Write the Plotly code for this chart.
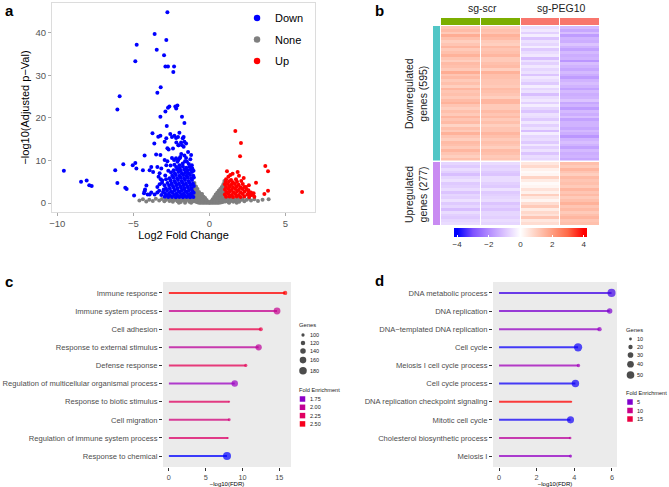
import math
import plotly.graph_objects as go

W, H = 669, 487
FONT = "Liberation Sans, Arial, sans-serif"

# ---------------- a: volcano (log2 fold change, -log10 adjusted p) ----------------
down_pts = [
    (-2.76, 44.8), (-3.60, 39.7), (-2.83, 38.3), (-4.78, 37.2), (-3.46, 36.0), (-2.98, 34.7),
    (-4.87, 33.3), (-2.89, 32.1), (-2.72, 32.1), (-2.32, 32.1), (-2.37, 30.8), (-3.20, 27.2),
    (-3.42, 25.9), (-5.90, 25.1), (-6.05, 22.0), (-2.72, 22.4), (-2.63, 22.7), (-2.24, 22.7),
    (-2.10, 22.9), (-2.18, 22.2), (-2.89, 21.5), (-3.22, 20.3), (-1.80, 20.3), (-1.64, 18.8),
    (-2.80, 18.1), (-3.74, 16.4), (-3.36, 15.6), (-3.22, 15.8), (-2.57, 16.2), (-2.46, 15.5),
    (-2.30, 15.8), (-2.19, 15.3), (-1.97, 16.5), (-2.06, 15.5), (-1.75, 15.2), (-1.69, 15.5),
    (-1.53, 14.0), (-1.80, 13.6), (-1.64, 14.4), (-1.86, 14.2), (-2.04, 13.6), (-1.69, 13.2),
    (-3.62, 14.0), (-2.94, 14.4), (-2.83, 15.2), (-2.17, 14.2), (-2.02, 13.6), (-2.76, 12.9),
    (-2.68, 12.6), (-2.39, 12.8), (-3.50, 11.4), (-3.22, 11.3), (-4.26, 11.2), (-2.94, 10.1),
    (-2.76, 9.8), (-2.83, 8.9), (-2.46, 10.6), (-2.32, 10.1), (-2.10, 9.7), (-1.95, 10.5),
    (-1.91, 10.8), (-1.64, 11.2), (-1.53, 10.6), (-2.04, 10.1), (-2.19, 10.5), (-1.47, 9.7),
    (-1.75, 9.3), (-1.97, 8.9), (-1.35, 9.2), (-1.15, 8.9), (-1.60, 9.8), (-1.25, 10.3),
    (-2.30, 9.0), (-1.85, 11.5), (-1.40, 12.0), (-2.55, 8.8), (-1.20, 11.3),
    (-9.57, 7.6), (-8.44, 5.0), (-8.07, 5.3), (-7.90, 4.2), (-7.74, 4.0), (-6.19, 7.7),
    (-5.66, 9.1), (-6.05, 4.7), (-5.53, 3.6), (-5.44, 3.3), (-5.04, 8.9), (-4.87, 9.4),
    (-4.80, 8.1), (-4.95, 1.8), (-4.37, 7.7), (-4.23, 3.2), (-4.14, 4.1), (-4.06, 2.0),
    (-3.82, 8.5), (-3.42, 8.5), (-3.93, 7.7), (-3.70, 7.3), (-3.16, 8.1), (-3.27, 7.0),
    (-3.34, 6.2), (-3.20, 5.6), (-4.26, 2.8), (-4.30, 2.3), (-3.93, 2.0), (-3.82, 2.5),
    (-3.60, 2.0), (-3.42, 2.5), (-3.16, 1.9), (-3.05, 2.6), (-2.94, 1.5), (-3.42, 3.8),
    (-3.27, 4.4), (-3.11, 4.8), (-3.00, 3.2), (-2.95, 4.2), (-3.10, 5.3), (-2.90, 6.5),
    (-2.70, 7.6), (-2.85, 5.6), (-3.30, 2.9),
    (-2.18, 8.5), (-1.95, 8.2), (-1.74, 8.6), (-1.52, 8.3), (-1.31, 8.5), (-1.12, 8.1),
    (-2.35, 7.7), (-2.12, 7.9), (-1.88, 7.6), (-1.65, 7.9), (-1.43, 7.7), (-1.22, 7.8), (-1.04, 7.6),
    (-2.52, 7.2), (-2.27, 7.0), (-2.03, 7.3), (-1.80, 7.0), (-1.58, 7.2), (-1.36, 7.0), (-1.15, 7.3),
    (-2.44, 6.4), (-2.20, 6.6), (-1.96, 6.4), (-1.72, 6.6), (-1.50, 6.4), (-1.27, 6.6), (-1.06, 6.4),
    (-2.62, 5.8), (-2.37, 6.0), (-2.12, 5.8), (-1.89, 6.0), (-1.66, 5.8), (-1.43, 6.0), (-1.20, 5.8),
    (-1.02, 6.0), (-2.55, 5.3), (-2.30, 5.2), (-2.06, 5.4), (-1.83, 5.2), (-1.60, 5.4), (-1.37, 5.2),
    (-1.14, 5.4), (-2.75, 4.7), (-2.48, 4.6), (-2.24, 4.8), (-2.00, 4.6), (-1.77, 4.8), (-1.54, 4.6),
    (-1.31, 4.8), (-1.08, 4.6), (-2.65, 4.1), (-2.40, 4.0), (-2.16, 4.2), (-1.92, 4.0), (-1.69, 4.2),
    (-1.46, 4.0), (-1.23, 4.2), (-1.02, 4.0), (-2.86, 3.5), (-2.60, 3.4), (-2.34, 3.6), (-2.10, 3.4),
    (-1.86, 3.6), (-1.63, 3.4), (-1.40, 3.6), (-1.17, 3.4), (-2.78, 2.9), (-2.52, 2.8), (-2.28, 3.0),
    (-2.03, 2.8), (-1.80, 3.0), (-1.57, 2.8), (-1.34, 3.0), (-1.11, 2.8), (-2.92, 2.3), (-2.66, 2.2),
    (-2.41, 2.4), (-2.17, 2.2), (-1.93, 2.4), (-1.70, 2.2), (-1.47, 2.4), (-1.24, 2.2), (-1.03, 2.4),
    (-2.82, 1.8), (-2.57, 1.7), (-2.32, 1.9), (-2.08, 1.7), (-1.85, 1.9), (-1.61, 1.7), (-1.38, 1.9),
    (-1.15, 1.7), (-2.70, 1.4), (-2.45, 1.45), (-2.20, 1.35), (-1.97, 1.45), (-1.74, 1.35),
    (-1.50, 1.45), (-1.27, 1.35), (-1.05, 1.45),
]

none_pts = [
    (-0.98, 0.5), (-0.98, 1.1), (-0.98, 1.7), (-0.98, 2.3), (-0.98, 2.9), (-0.98, 3.5), (-0.98, 4.1), (-0.98, 4.7),
    (-0.88, 0.3), (-0.88, 0.9), (-0.88, 1.5), (-0.88, 2.1), (-0.88, 2.7), (-0.88, 3.3), (-0.88, 3.9),
    (-0.78, 0.2), (-0.78, 0.8), (-0.78, 1.4), (-0.78, 2.0), (-0.78, 2.6), (-0.78, 3.3),
    (-0.68, 0.1), (-0.68, 0.7), (-0.68, 1.3), (-0.68, 1.9), (-0.68, 2.6),
    (-0.58, 0.1), (-0.58, 0.6), (-0.58, 1.1), (-0.58, 1.7), (-0.58, 2.2),
    (-0.48, 0.05), (-0.48, 0.5), (-0.48, 1.0), (-0.48, 1.6), (-0.48, 2.1),
    (-0.38, 0.05), (-0.38, 0.5), (-0.38, 1.0), (-0.38, 1.5),
    (-0.28, 0.05), (-0.28, 0.45), (-0.28, 0.9), (-0.28, 1.2),
    (-0.18, 0.05), (-0.18, 0.35), (-0.18, 0.7), (-0.08, 0.05), (-0.08, 0.3),
    (0.02, 0.05), (0.02, 0.12), (0.12, 0.05), (0.12, 0.4),
    (0.22, 0.05), (0.22, 0.45), (0.22, 0.9),
    (0.32, 0.05), (0.32, 0.5), (0.32, 1.0), (0.32, 1.4),
    (0.42, 0.05), (0.42, 0.55), (0.42, 1.1), (0.42, 1.7), (0.42, 2.0),
    (0.52, 0.1), (0.52, 0.6), (0.52, 1.2), (0.52, 1.8), (0.52, 2.4),
    (0.62, 0.1), (0.62, 0.7), (0.62, 1.3), (0.62, 1.9), (0.62, 2.5), (0.62, 2.9),
    (0.72, 0.15), (0.72, 0.8), (0.72, 1.4), (0.72, 2.0), (0.72, 2.6), (0.72, 3.3),
    (0.82, 0.2), (0.82, 0.8), (0.82, 1.4), (0.82, 2.0), (0.82, 2.6), (0.82, 3.2), (0.82, 3.8),
    (0.92, 0.3), (0.92, 0.9), (0.92, 1.5), (0.92, 2.1), (0.92, 2.7), (0.92, 3.3), (0.92, 3.9), (0.92, 4.4),
    (0.99, 0.5), (0.99, 1.1), (0.99, 1.7), (0.99, 2.3), (0.99, 2.9), (0.99, 3.5), (0.99, 4.1), (0.99, 4.7),
    (0.99, 5.2),
    (-4.60, 0.6), (-4.37, 0.9), (-4.15, 0.35), (-3.95, 0.8), (-3.72, 0.5), (-3.52, 1.0), (-3.30, 0.6),
    (-3.12, 0.95), (-2.96, 0.4), (-2.85, 0.8), (-2.72, 1.1), (-2.62, 0.5), (-2.50, 0.9), (-2.40, 0.3),
    (-2.30, 0.7), (-2.20, 1.1), (-2.10, 0.45), (-1.98, 0.85), (-1.88, 0.25), (-1.78, 0.65), (-1.68, 1.05),
    (-1.58, 0.4), (-1.48, 0.8), (-1.40, 1.15), (-1.32, 0.3), (-1.24, 0.7), (-1.16, 1.1), (-1.10, 0.35),
    (-1.05, 0.8), (-1.02, 1.2), (-1.20, 0.1), (-1.60, 0.1), (-2.00, 0.1),
    (1.02, 0.8), (1.06, 0.35), (1.14, 1.1), (1.20, 0.6), (1.28, 0.2), (1.34, 0.95), (1.42, 0.5),
    (1.50, 1.15), (1.58, 0.3), (1.66, 0.8), (1.76, 0.45), (1.86, 1.0), (1.96, 0.3), (2.06, 0.7),
    (2.19, 0.95), (2.30, 0.4), (2.46, 0.8), (2.60, 1.1), (2.74, 0.6), (2.96, 0.9), (3.20, 0.5),
    (3.50, 0.8), (3.90, 0.9), (1.30, 0.05), (1.80, 0.1),
]

up_pts = [
    (1.71, 16.9), (2.08, 14.1), (2.02, 11.0), (3.68, 8.7), (3.86, 7.5), (3.07, 4.8), (3.62, 2.1),
    (3.86, 2.9), (6.10, 2.6), (1.16, 7.5), (1.38, 6.6), (1.53, 6.9), (1.86, 7.3), (2.26, 5.9),
    (1.75, 5.6), (1.43, 5.4), (1.10, 5.6), (2.41, 3.8), (2.57, 3.0), (2.74, 2.5), (2.91, 2.3),
    (2.70, 1.9), (2.96, 1.5), (1.25, 6.2), (1.95, 6.4), (2.60, 4.2),
    (1.08, 5.0), (1.30, 5.1), (1.55, 4.9), (1.82, 5.0), (2.10, 5.2),
    (1.02, 4.4), (1.22, 4.5), (1.44, 4.3), (1.68, 4.5), (1.93, 4.3), (2.20, 4.5),
    (1.10, 3.8), (1.33, 3.9), (1.56, 3.7), (1.80, 3.9), (2.05, 3.7), (2.30, 3.8),
    (1.03, 3.2), (1.25, 3.3), (1.47, 3.1), (1.70, 3.3), (1.94, 3.1), (2.18, 3.3), (2.45, 3.2),
    (1.12, 2.6), (1.35, 2.7), (1.58, 2.5), (1.82, 2.7), (2.06, 2.5), (2.32, 2.7), (2.60, 2.5),
    (1.02, 2.0), (1.24, 2.1), (1.47, 1.9), (1.70, 2.1), (1.94, 1.9), (2.20, 2.1), (2.50, 2.0),
    (2.80, 1.9), (1.10, 1.5), (1.33, 1.55), (1.56, 1.45), (1.80, 1.55), (2.05, 1.45), (2.30, 1.55),
    (2.62, 1.45),
]

volcano_groups = ["Down", "None", "Up"]
volcano_colors = ["#0000FF", "#7F7F7F", "#FF0000"]

# ---------------- b: heatmap of z-scored expression ----------------
samples = ["sg-scr 1", "sg-scr 2", "sg-PEG10 1", "sg-PEG10 2"]
sample_groups = ["sg-scr", "sg-PEG10"]
down_c1 = [1.2, 1.4, 1.1, 1.7, 1.3, 1.0, 1.2, 1.5, 1.1, 1.3, 1.6, 1.2, 1.0, 1.4, 1.3, 1.1,
           1.7, 1.2, 1.4, 1.1, 1.3, 1.0, 1.5, 1.2, 1.3, 1.1, 1.4, 1.6, 1.2, 1.0, 1.3, 1.1,
           1.5, 1.2, 1.4, 0.9, 1.3, 1.1, 1.6, 1.2, 1.0, 1.4, 1.3, 1.1, 1.5, 1.2, 1.0, 1.3]
down_c2 = [1.1, 1.3, 1.2, 1.6, 1.4, 1.1, 1.0, 1.4, 1.2, 1.3, 1.5, 1.1, 1.1, 1.3, 1.4, 1.0,
           1.6, 1.3, 1.3, 1.2, 1.2, 1.1, 1.4, 1.3, 1.2, 1.0, 1.5, 1.5, 1.1, 1.1, 1.4, 1.2,
           1.4, 1.1, 1.3, 1.0, 1.2, 1.2, 1.5, 1.3, 1.1, 1.3, 1.2, 1.0, 1.4, 1.3, 1.1, 1.2]
down_c3 = [-0.6, -0.4, -0.8, -0.3, -1.0, -0.5, -0.7, -0.3, -0.9, -0.6, -0.4, -1.1, -0.5, -0.8, -0.4, -0.7,
           -0.5, -1.0, -0.4, -0.6, -0.9, -0.3, -0.7, -0.5, -1.1, -0.6, -0.4, -0.8, -0.3, -0.7, -1.0, -0.5,
           -0.6, -0.9, -0.4, -0.8, -0.5, -1.1, -0.3, -0.7, -0.6, -0.9, -0.4, -0.8, -0.5, -1.0, -0.6, -0.7]
down_c4 = [-1.2, -1.5, -1.1, -1.7, -1.3, -1.4, -1.0, -1.3, -1.6, -1.2, -1.4, -1.3, -1.8, -1.1, -1.3, -1.5,
           -1.2, -1.4, -1.7, -1.3, -1.1, -1.3, -1.6, -1.2, -1.4, -1.3, -1.0, -1.5, -1.3, -1.7, -1.2, -1.4,
           -1.1, -1.6, -1.3, -1.3, -1.5, -1.2, -1.4, -1.8, -1.3, -1.1, -1.3, -1.6, -1.2, -1.4, -1.3, -1.5]
up_c1 = [-0.7, -0.9, -0.6, -0.8, -1.1, -0.7, -0.5, -0.9, -0.8, -0.6, -1.0,
         -0.7, -0.8, -0.5, -0.9, -0.7, -1.1, -0.6, -0.8, -0.9, -0.7, -0.6]
up_c2 = [-0.6, -0.8, -0.7, -0.9, -1.0, -0.6, -0.6, -0.8, -0.9, -0.5, -0.9,
         -0.8, -0.7, -0.6, -1.0, -0.8, -1.0, -0.7, -0.7, -0.8, -0.6, -0.7]
up_c3 = [0.5, 0.8, 0.3, 0.1, 0.2, 0.9, 0.4, 0.1, 0.2, 0.6, 0.3,
         1.0, 0.5, 0.2, 0.7, 1.1, 0.4, 0.8, 0.6, 1.2, 0.5, 0.7]
up_c4 = [1.3, 1.1, 1.5, 1.2, 1.0, 1.4, 1.2, 1.3, 1.1, 1.5, 1.2,
         1.4, 1.1, 1.3, 1.6, 1.2, 1.4, 1.1, 1.3, 1.5, 1.2, 1.3]
block_labels = ["Downregulated<br>genes (595)", "Upregulated<br>genes (277)"]
heat_ticks = [-4, -2, 0, 2, 4]

# ---------------- c / d: GO enrichment lollipops ----------------
c_terms = ["Immune response", "Immune system process", "Cell adhesion",
           "Response to external stimulus", "Defense response",
           "Regulation of multicellular organismal process", "Response to biotic stimulus",
           "Cell migration", "Regulation of immune system process", "Response to chemical"]
c_fdr = [15.8, 14.7, 12.5, 12.2, 10.45, 8.95, 8.2, 8.2, 8.0, 7.9]
c_genes = [120, 165, 112, 155, 100, 158, 78, 95, 82, 190]
c_fold = [2.6, 2.02, 2.35, 1.97, 2.3, 1.78, 2.25, 2.12, 2.22, 1.5]
c_gene_breaks = [100, 120, 140, 160, 180]
c_fold_breaks = [1.75, 2.00, 2.25, 2.50]

d_terms = ["DNA metabolic process", "DNA replication", "DNA\u2212templated DNA replication",
           "Cell cycle", "Meiosis I cell cycle process", "Cell cycle process",
           "DNA replication checkpoint signaling", "Mitotic cell cycle",
           "Cholesterol biosynthetic process", "Meiosis I"]
d_fdr = [5.98, 5.88, 5.34, 4.2, 4.22, 4.06, 3.85, 3.8, 3.78, 3.8]
d_genes = [55, 28, 20, 58, 14, 48, 5, 44, 9, 12]
d_fold = [3.2, 4.9, 5.6, 1.8, 6.4, 1.9, 18.5, 2.0, 8.6, 5.6]
d_gene_breaks = [10, 20, 30, 40, 50]
d_fold_breaks = [5, 10, 15]

FE_SCALE = [[0.0, "#0000FF"], [0.25, "#9A00C3"], [0.5, "#CA0089"], [0.75, "#E80050"], [1.0, "#FF0000"]]
HEAT_SCALE = [[0.0, "#0000FF"], [0.0238, "#0000FF"], [0.1429, "#7E51FF"], [0.2619, "#B38BFF"],
              [0.381, "#DCC4FF"], [0.5, "#FFFFFF"], [0.619, "#FFCFBF"], [0.738, "#FF9E81"],
              [0.857, "#FF6846"], [0.976, "#FF0000"], [1.0, "#FF0000"]]


def px_x(p):
    return p / W


def px_y(p):
    return 1 - p / H


def hex_rgb(c):
    return [int(c[i:i + 2], 16) for i in (1, 3, 5)]


def fe_color(v, lo, hi):
    t = min(max((v - lo) / (hi - lo), 0.0), 1.0)
    for (t0, c0), (t1, c1) in zip(FE_SCALE, FE_SCALE[1:]):
        if t <= t1:
            f = (t - t0) / (t1 - t0)
            a, b = hex_rgb(c0), hex_rgb(c1)
            return "rgb(%d,%d,%d)" % tuple(round(x + (y - x) * f) for x, y in zip(a, b))
    return FE_SCALE[-1][1]


def dot_size(g, g_lo, g_hi, d_lo, d_hi):
    # diameter grows with sqrt(genes), like the area scale of the original
    k = (d_hi - d_lo) / (math.sqrt(g_hi) - math.sqrt(g_lo))
    return d_lo + k * (math.sqrt(g) - math.sqrt(g_lo))


fig = go.Figure()

# ---- a ---- (grey drawn first so the coloured points sit on top)
volcano_pts = [down_pts, none_pts, up_pts]
for idx in (1, 0, 2):
    pts = volcano_pts[idx]
    fig.add_trace(go.Scatter(x=[p[0] for p in pts], y=[p[1] for p in pts], mode="markers",
                             name=volcano_groups[idx],
                             marker=dict(color=volcano_colors[idx], size=4, line=dict(width=0)),
                             xaxis="x", yaxis="y"))

# ---- b ----
down_z = [list(r) for r in zip(down_c1, down_c2, down_c3, down_c4)]
up_z = [list(r) for r in zip(up_c1, up_c2, up_c3, up_c4)]
fig.add_trace(go.Heatmap(z=down_z, x=list(range(len(samples))), y=list(range(len(down_z))),
                         coloraxis="coloraxis", xgap=1, xaxis="x2", yaxis="y2"))
fig.add_trace(go.Heatmap(z=up_z, x=list(range(len(samples))), y=list(range(len(up_z))),
                         coloraxis="coloraxis", xgap=1, xaxis="x2", yaxis="y3"))
fig.add_trace(go.Heatmap(z=[[0, 0, 1, 1]], x=list(range(len(samples))), y=[0], xgap=1,
                         colorscale=[[0, "#7CAE00"], [0.5, "#7CAE00"], [0.5, "#F8766D"], [1, "#F8766D"]],
                         zmin=0, zmax=1, showscale=False, xaxis="x2", yaxis="y4"))
fig.add_trace(go.Heatmap(z=[[0]] * len(down_z), x=[0], y=list(range(len(down_z))),
                         colorscale=[[0, "#52C6C6"], [1, "#52C6C6"]], showscale=False,
                         xaxis="x3", yaxis="y2"))
fig.add_trace(go.Heatmap(z=[[0]] * len(up_z), x=[0], y=list(range(len(up_z))),
                         colorscale=[[0, "#C98BF2"], [1, "#C98BF2"]], showscale=False,
                         xaxis="x3", yaxis="y3"))

# ---- c / d ----
panels = [
    (c_terms, c_fdr, c_genes, c_fold, "x4", "y5", (78, 190, 1.8, 8.0), (1.5, 2.6)),
    (d_terms, d_fdr, d_genes, d_fold, "x5", "y6", (5, 58, 1.6, 8.3), (1.5, 18.5)),
]
for terms, fdr, genes, fold, xa, ya, sz, (lo, hi) in panels:
    for i, (v, fe) in enumerate(zip(fdr, fold)):
        fig.add_trace(go.Scatter(x=[0, v], y=[i, i], mode="lines", opacity=0.75,
                                 line=dict(color=fe_color(fe, lo, hi), width=2),
                                 xaxis=xa, yaxis=ya))
    fig.add_trace(go.Scatter(x=fdr, y=list(range(len(terms))), mode="markers",
                             marker=dict(size=[dot_size(g, *sz) for g in genes], color=fold,
                                         colorscale=FE_SCALE, cmin=lo, cmax=hi,
                                         line=dict(width=0)),
                             xaxis=xa, yaxis=ya))

# ---- legends (keys drawn on a transparent pixel-space overlay) ----
annotations = []


def note(text, x, y, size, **kw):
    d = dict(text=text, x=px_x(x), y=px_y(y), xref="paper", yref="paper", showarrow=False,
             xanchor="left", yanchor="middle", font=dict(size=size, color=kw.pop("color", "#1A1A1A")))
    d.update(kw)
    annotations.append(d)


leg_y = [18 + i * 21.5 for i in range(len(volcano_groups))]
fig.add_trace(go.Scatter(x=[257] * 3, y=leg_y, mode="markers",
                         marker=dict(color=volcano_colors, size=6.5, line=dict(width=0)),
                         xaxis="x6", yaxis="y7"))
for name, yy in zip(volcano_groups, leg_y):
    note(name, 273, yy, 11, color="#000000")


def size_legend(breaks, sz, x_key, x_lab, y0, title_xy):
    diam = [dot_size(b, *sz) for b in breaks]
    ys = [y0]
    for a, b in zip(diam, diam[1:]):
        ys.append(ys[-1] + max(8, 0.75 * (a + b)))
    fig.add_trace(go.Scatter(x=[x_key] * len(breaks), y=ys, mode="markers",
                             marker=dict(color="black", size=diam, line=dict(width=0)),
                             xaxis="x6", yaxis="y7"))
    note("Genes", title_xy[0], title_xy[1], 5.8)
    for b, yy in zip(breaks, ys):
        note(str(b), x_lab, yy, 5.5)


def fold_legend(breaks, lo, hi, x_key, x_lab, y0, step, title_xy, fmt):
    ys = [y0 + i * step for i in range(len(breaks))]
    fig.add_trace(go.Scatter(x=[x_key] * len(breaks), y=ys, mode="markers",
                             marker=dict(symbol="square", size=5.5, color=breaks, colorscale=FE_SCALE,
                                         cmin=lo, cmax=hi, line=dict(width=0)),
                             xaxis="x6", yaxis="y7"))
    note("Fold Enrichment", title_xy[0], title_xy[1], 5.6)
    for b, yy in zip(breaks, ys):
        note(fmt.format(b), x_lab, yy, 5.5)


size_legend(c_gene_breaks, (78, 190, 1.8, 8.0), 303, 308, 335, (297, 325))
fold_legend(c_fold_breaks, 1.5, 2.6, 302.5, 308, 399, 8.3, (297, 390), "{:.2f}")
size_legend(d_gene_breaks, (5, 58, 1.6, 8.3), 630.5, 635, 339, (624, 330))
fold_legend(d_fold_breaks, 1.5, 18.5, 630, 635, 402, 8.5, (624, 393), "{}")

for letter, x, y in [("a", 3, 11), ("b", 373, 11), ("c", 3, 281), ("d", 373, 280)]:
    note("<b>%s</b>" % letter, x, y, 15, color="#000000")
note(sample_groups[0], 482, 8, 10.5, xanchor="center", color="#222222")
note(sample_groups[1], 561, 8, 10.5, xanchor="center", color="#222222")
note(block_labels[0], 416, 93, 10.5, xanchor="center", textangle=-90, color="#222222")
note(block_labels[1], 416, 194, 10.5, xanchor="center", textangle=-90, color="#222222")

hidden = dict(visible=False, showgrid=False, zeroline=False, automargin=False)
tick_grey = dict(ticks="outside", ticklen=3, tickcolor="#333333", showgrid=False, zeroline=False,
                 showline=False, automargin=False)
terms_axis = dict(tickvals=list(range(10)), range=[9.6, -0.6], domain=[px_y(467), px_y(282)],
                  tickfont=dict(size=7.6, color="#4D4D4D"), **tick_grey)

fig.update_layout(
    width=W, height=H, margin=dict(l=0, r=0, t=0, b=0),
    paper_bgcolor="white", plot_bgcolor="rgba(0,0,0,0)", showlegend=False,
    font=dict(family=FONT, color="#222222"),
    xaxis=dict(domain=[px_x(52), px_x(315)], range=[-10.35, 6.95], tickvals=[-10, -5, 0, 5],
               ticks="outside", ticklen=3, tickcolor="#AAAAAA", showgrid=False, zeroline=False,
               showline=True, mirror=True, linecolor="#DCDCDC", linewidth=1, automargin=False,
               tickfont=dict(size=9.5, color="#555555"), anchor="y",
               title=dict(text="Log2 Fold Change", font=dict(size=11, color="#000000"), standoff=2)),
    yaxis=dict(domain=[px_y(212), px_y(3)], range=[-2.1, 47.0], tickvals=[0, 10, 20, 30, 40],
               ticks="outside", ticklen=3, tickcolor="#AAAAAA", showgrid=False, zeroline=False,
               showline=True, mirror=True, linecolor="#DCDCDC", linewidth=1, automargin=False,
               tickfont=dict(size=9.5, color="#555555"), anchor="x",
               title=dict(text="\u2212log10(Adjusted p\u2212Val)", font=dict(size=11, color="#000000"),
                          standoff=3)),
    xaxis2=dict(domain=[px_x(441), px_x(600)], range=[-0.5, 3.5], anchor="y2", **hidden),
    yaxis2=dict(domain=[px_y(160.5), px_y(26)], range=[len(down_z) - 0.5, -0.5], anchor="x2", **hidden),
    yaxis3=dict(domain=[px_y(225), px_y(162)], range=[len(up_z) - 0.5, -0.5], anchor="x2", **hidden),
    yaxis4=dict(domain=[px_y(25), px_y(18)], range=[-0.5, 0.5], anchor="x2", **hidden),
    xaxis3=dict(domain=[px_x(433), px_x(440)], range=[-0.5, 0.5], anchor="y2", **hidden),
    xaxis4=dict(domain=[px_x(163), px_x(291)], range=[-0.8, 16.6], tickvals=[0, 5, 10, 15],
                anchor="y5", tickfont=dict(size=7.3, color="#4D4D4D"),
                title=dict(text="\u2212log10(FDR)", font=dict(size=6, color="#000000"), standoff=1),
                **tick_grey),
    yaxis5=dict(ticktext=c_terms, anchor="x4", **terms_axis),
    xaxis5=dict(domain=[px_x(493), px_x(617)], range=[-0.32, 6.27], tickvals=[0, 2, 4, 6],
                anchor="y6", tickfont=dict(size=7.3, color="#4D4D4D"),
                title=dict(text="\u2212log10(FDR)", font=dict(size=6, color="#000000"), standoff=1),
                **tick_grey),
    yaxis6=dict(ticktext=d_terms, anchor="x5", **terms_axis),
    xaxis6=dict(domain=[0, 1], range=[0, W], anchor="y7", **hidden),
    yaxis7=dict(domain=[0, 1], range=[H, 0], anchor="x6", **hidden),
    coloraxis=dict(colorscale=HEAT_SCALE, cmin=-4.2, cmax=4.2,
                   colorbar=dict(orientation="h", x=px_x(520.5), xanchor="center", y=px_y(228),
                                 yanchor="top", len=133, lenmode="pixels", thickness=9,
                                 thicknessmode="pixels", xpad=0, ypad=0, outlinewidth=0,
                                 tickvals=heat_ticks, ticks="inside", ticklen=2, tickcolor="white",
                                 tickfont=dict(size=8, color="#333333"))),
    shapes=[dict(type="rect", xref="x4 domain", yref="y5 domain", x0=0, x1=1, y0=0, y1=1,
                 fillcolor="#EBEBEB", line=dict(width=0), layer="below"),
            dict(type="rect", xref="x5 domain", yref="y6 domain", x0=0, x1=1, y0=0, y1=1,
                 fillcolor="#EBEBEB", line=dict(width=0), layer="below")],
    annotations=annotations,
)

# the page's default 8px body margin would push the figure off the 669x487 window
fig.write_html("out.html", config={"displayModeBar": False},
               post_script="document.body.style.margin='0';")
